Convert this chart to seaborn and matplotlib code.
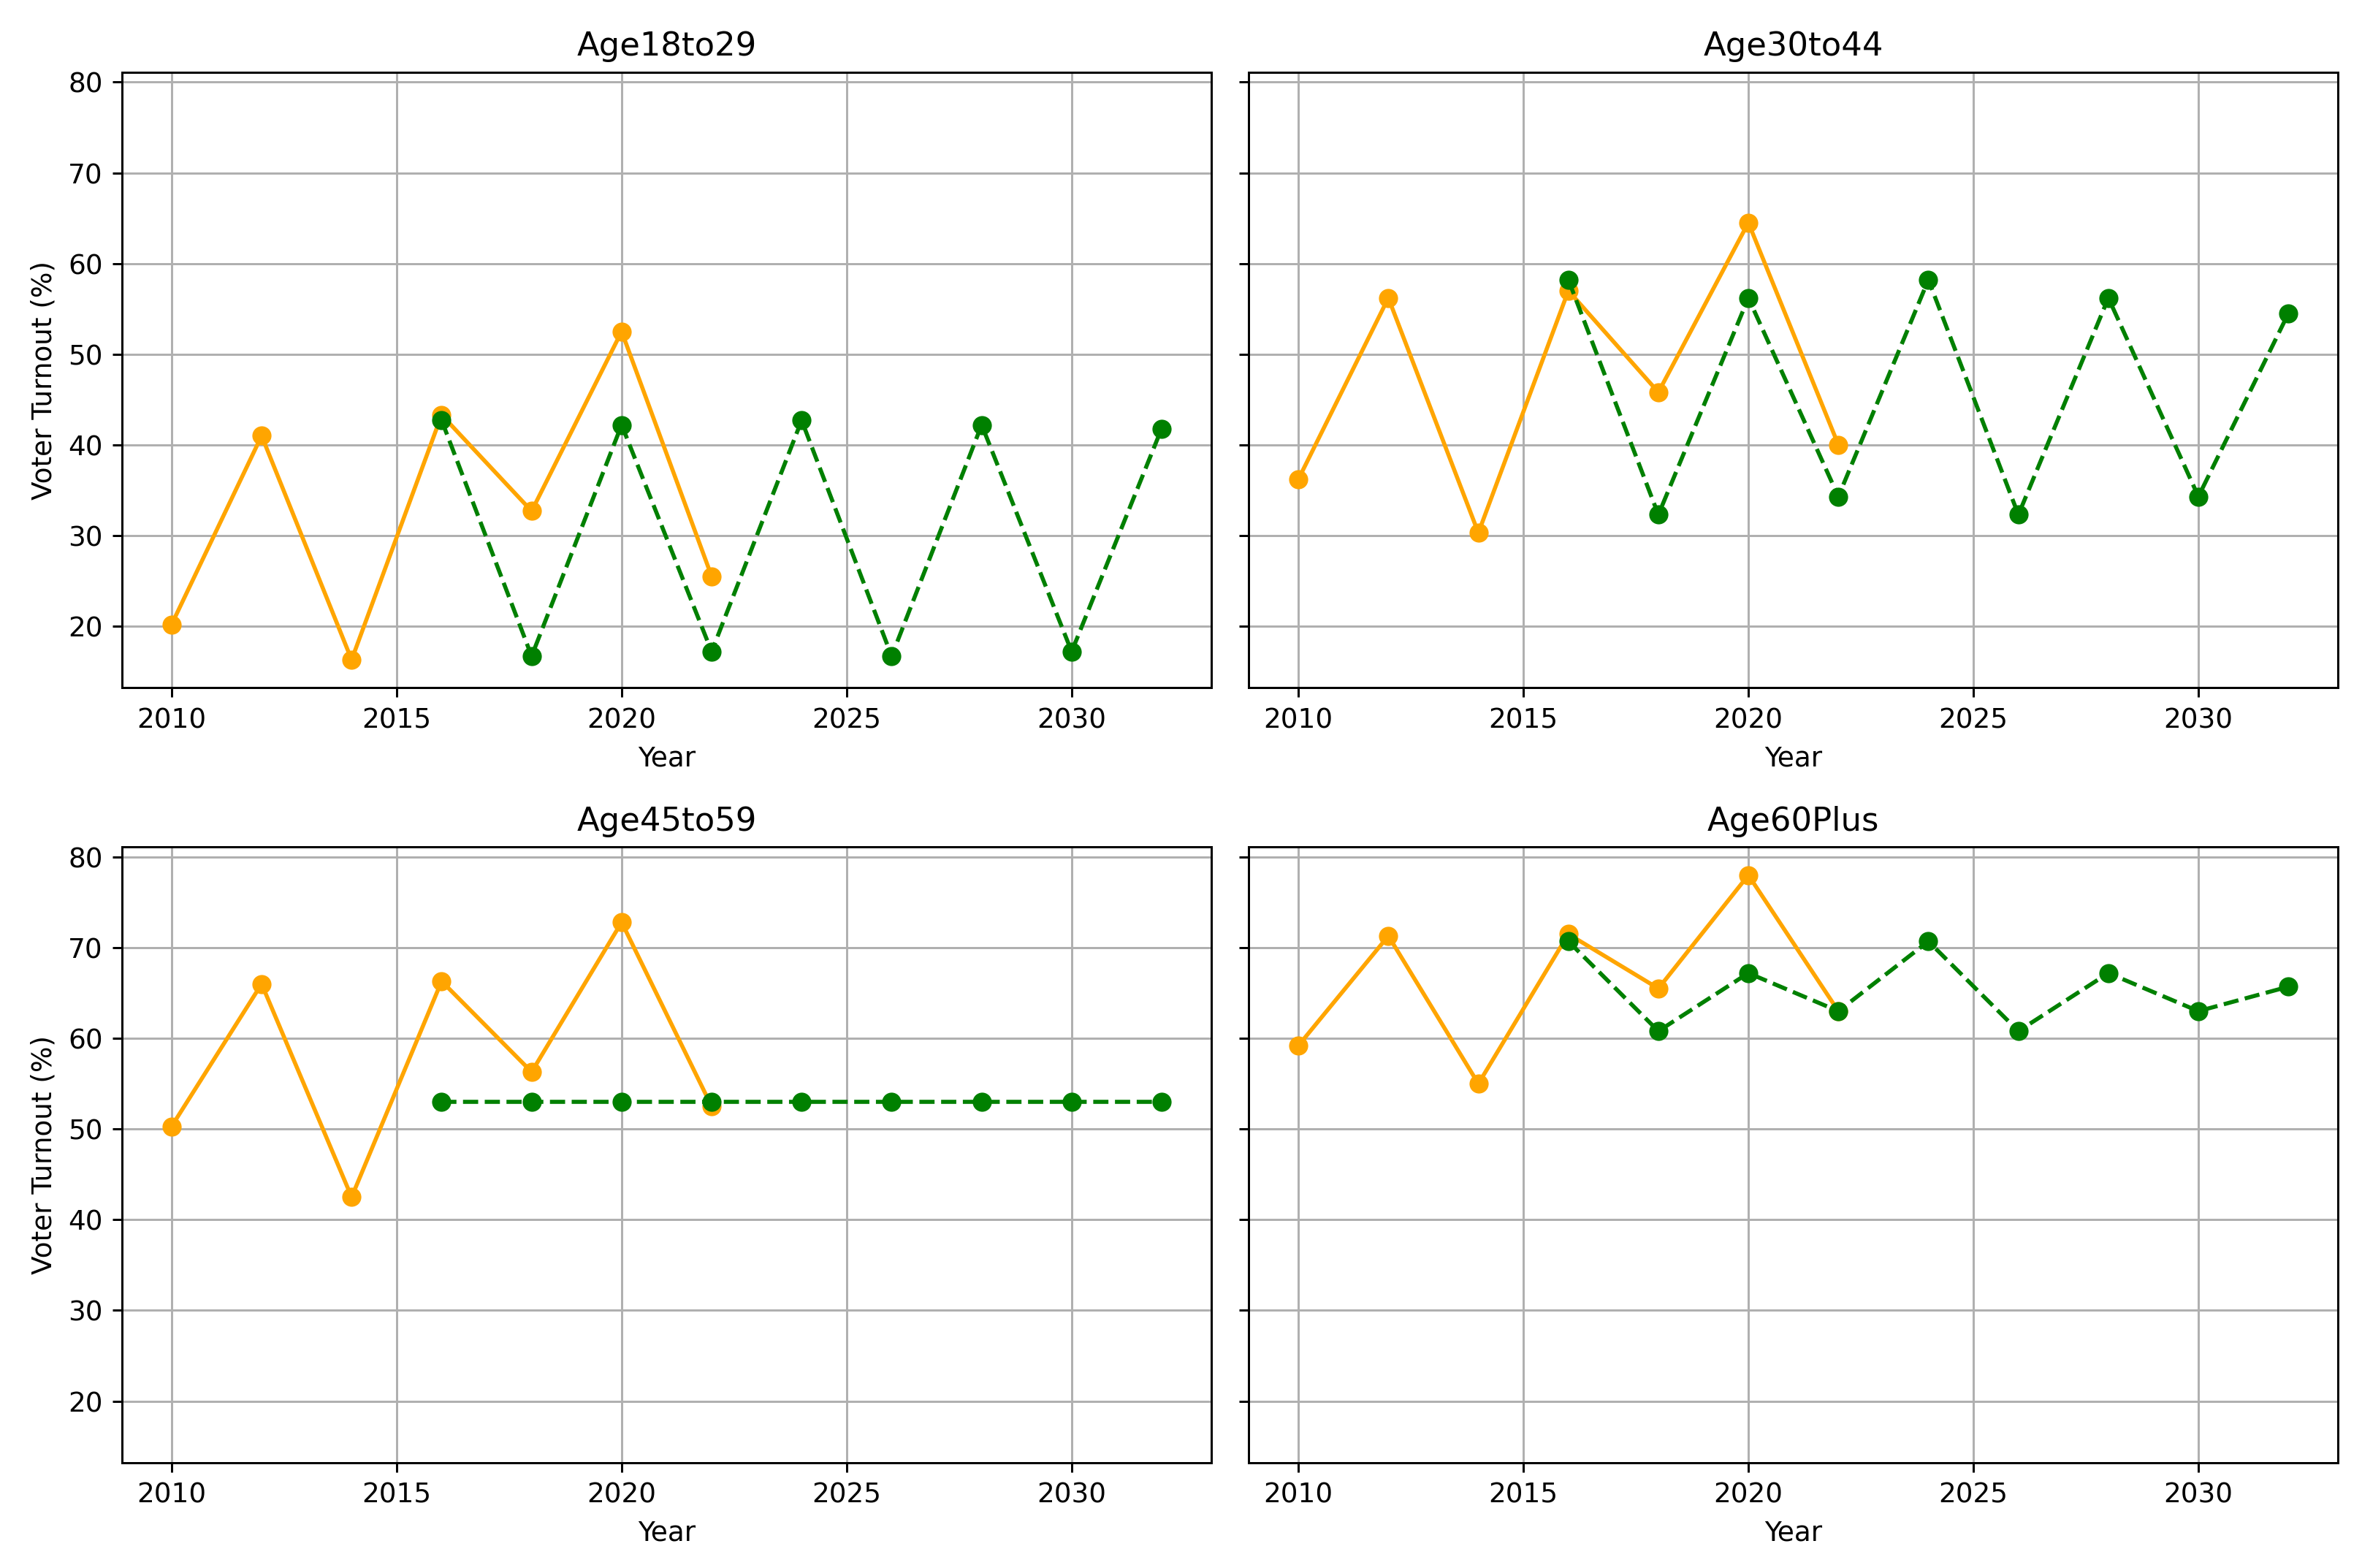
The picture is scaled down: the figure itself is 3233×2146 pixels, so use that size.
import pandas as pd
import matplotlib
matplotlib.use('Agg')
import matplotlib.pyplot as plt
import seaborn as sns

# Observed turnout (orange) and projected turnout (green dashed)
obs_years = [2010, 2012, 2014, 2016, 2018, 2020, 2022]
proj_years = [2016, 2018, 2020, 2022, 2024, 2026, 2028, 2030, 2032]

age_groups = ['Age18to29', 'Age30to44', 'Age45to59', 'Age60Plus']

obs_18to29 = [20.2, 41.0, 16.3, 43.3, 32.7, 52.5, 25.5]
obs_30to44 = [36.2, 56.2, 30.3, 57.0, 45.8, 64.5, 40.0]
obs_45to59 = [50.3, 66.0, 42.5, 66.3, 56.3, 72.8, 52.5]
obs_60plus = [59.2, 71.3, 55.0, 71.5, 65.5, 78.0, 63.0]

proj_18to29 = [42.7, 16.7, 42.2, 17.2, 42.7, 16.7, 42.2, 17.2, 41.8]
proj_30to44 = [58.2, 32.3, 56.2, 34.3, 58.2, 32.3, 56.2, 34.3, 54.5]
proj_45to59 = [53.0, 53.0, 53.0, 53.0, 53.0, 53.0, 53.0, 53.0, 53.0]
proj_60plus = [70.7, 60.8, 67.2, 63.0, 70.7, 60.8, 67.2, 63.0, 65.7]

observed = [obs_18to29, obs_30to44, obs_45to59, obs_60plus]
projected = [proj_18to29, proj_30to44, proj_45to59, proj_60plus]

dpi = 269.4
fig, axes = plt.subplots(2, 2, figsize=(3233 / dpi, 2146 / dpi), sharey=True)

for ax, group, obs, proj in zip(axes.flat, age_groups, observed, projected):
    obs_df = pd.DataFrame({'Year': obs_years, 'Turnout': obs})
    proj_df = pd.DataFrame({'Year': proj_years, 'Turnout': proj})

    sns.lineplot(data=obs_df, x='Year', y='Turnout', ax=ax, color='orange',
                 marker='o', markersize=6, markeredgecolor='orange',
                 markeredgewidth=1, linewidth=1.5)
    sns.lineplot(data=proj_df, x='Year', y='Turnout', ax=ax, color='green',
                 linestyle='--', marker='o', markersize=6,
                 markeredgecolor='green', markeredgewidth=1, linewidth=1.5)

    ax.set_title(group)
    ax.set_xlabel('Year')
    ax.set_ylabel('Voter Turnout (%)')
    ax.grid(True)

for ax in axes[:, 1]:
    ax.set_ylabel('')

fig.subplots_adjust(left=0.0517, right=0.9898, top=0.9539, bottom=0.0672,
                    wspace=0.0346, hspace=0.259)
plt.savefig('out.png', dpi=dpi)
